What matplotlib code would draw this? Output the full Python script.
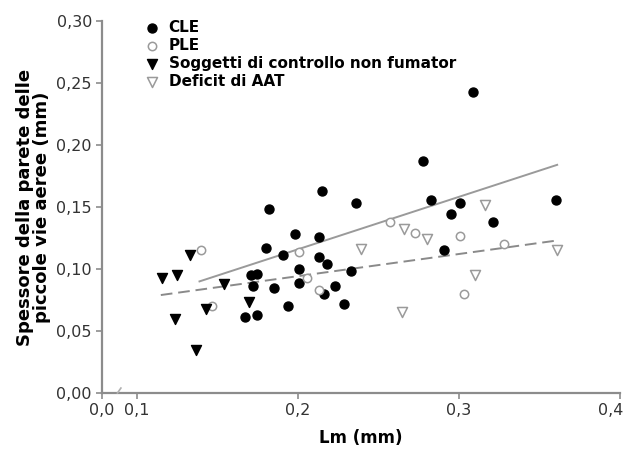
import numpy as np
import matplotlib
matplotlib.use("Agg")
import matplotlib.pyplot as plt
from matplotlib.transforms import ScaledTranslation

plt.rcParams["font.family"] = ["DejaVu Sans"]

# ── dati ──
cle_x = [0.309, 0.278, 0.215, 0.182, 0.236, 0.283, 0.301, 0.295, 0.321, 0.360,
         0.291, 0.198, 0.213, 0.180, 0.191, 0.213, 0.218, 0.201, 0.233, 0.171,
         0.175, 0.172, 0.185, 0.223, 0.201, 0.194, 0.229, 0.167, 0.175, 0.216]
cle_y = [0.243, 0.187, 0.163, 0.148, 0.153, 0.156, 0.153, 0.144, 0.138, 0.156,
         0.115, 0.128, 0.126, 0.117, 0.111, 0.110, 0.104, 0.100, 0.098, 0.095,
         0.096, 0.086, 0.085, 0.086, 0.089, 0.070, 0.072, 0.061, 0.063, 0.080]
ple_x = [0.140, 0.147, 0.201, 0.206, 0.213, 0.257, 0.273, 0.301, 0.303, 0.328]
ple_y = [0.115, 0.070, 0.114, 0.093, 0.083, 0.138, 0.129, 0.127, 0.080, 0.120]
ctrl_x = [0.116, 0.125, 0.133, 0.124, 0.143, 0.137, 0.154, 0.170]
ctrl_y = [0.093, 0.095, 0.111, 0.060, 0.068, 0.035, 0.088, 0.073]
aat_x = [0.266, 0.280, 0.239, 0.316, 0.310, 0.265, 0.361]
aat_y = [0.132, 0.124, 0.116, 0.152, 0.095, 0.065, 0.115]

fit_solid_x = [0.139, 0.361]
fit_solid_y = [0.090, 0.184]
fit_dash_x = [0.115, 0.361]
fit_dash_y = [0.079, 0.123]

labels = ["CLE", "PLE", "Soggetti di controllo non fumator", "Deficit di AAT"]
xticks = [0.0, 0.1, 0.2, 0.3, 0.4]
xticklabels = ["0,0", "0,1", "0,2", "0,3", "0,4"]
yticks = [0.00, 0.05, 0.10, 0.15, 0.20, 0.25, 0.30]
yticklabels = ["0,00", "0,05", "0,10", "0,15", "0,20", "0,25", "0,30"]

# asse x interrotto: tratto 0,0-0,1 compresso
K = 0.217


def fwd(x):
    x = np.asarray(x, dtype=float)
    return np.where(x < 0.1, 0.1 - (0.1 - x) * K, x)


def inv(u):
    u = np.asarray(u, dtype=float)
    return np.where(u < 0.1, 0.1 - (0.1 - u) / K, u)


fig = plt.figure(figsize=(6.3, 4.51), dpi=100)
ax = fig.add_axes([101.7 / 630, 58 / 451, 518.3 / 630, 372 / 451])
ax.set_xscale("function", functions=(fwd, inv))
ax.set_xlim(0, 0.4)
ax.set_ylim(0, 0.30)

grey = "#8c8c8c"
ax.plot(fit_solid_x, fit_solid_y, color="#9a9a9a", lw=1.4, zorder=2)
ax.plot(fit_dash_x, fit_dash_y, color="#8a8a8a", lw=1.4, ls=(0, (6, 3)), zorder=2)

ax.scatter(cle_x, cle_y, s=42, color="black", zorder=3, label=labels[0])
ax.scatter(ple_x, ple_y, s=36, facecolor="white", edgecolor="#9a9a9a", lw=1.1,
           zorder=3, label=labels[1])
ax.scatter(ctrl_x, ctrl_y, s=52, marker="v", color="black", zorder=3, label=labels[2])
ax.scatter(aat_x, aat_y, s=52, marker="v", facecolor="white", edgecolor="#9a9a9a",
           lw=1.1, zorder=3, label=labels[3])

# segno di interruzione
ax.plot([0.045, 0.055], [0.0, 0.004], color="#b0b0b0", lw=1.2, clip_on=False, zorder=4)

for s in ("top", "right"):
    ax.spines[s].set_visible(False)
for s in ("left", "bottom"):
    ax.spines[s].set_color(grey)
    ax.spines[s].set_linewidth(1.6)

ax.set_xticks(xticks)
ax.set_xticklabels(xticklabels)
ax.set_yticks(yticks)
ax.set_yticklabels(yticklabels)
ax.minorticks_off()
ax.tick_params(colors=grey, labelcolor="#333333", labelsize=11.5, length=4, width=1.2, pad=3)
# "0,4" sta sul bordo destro: spostato un po' a sinistra
last = ax.get_xticklabels()[-1]
last.set_transform(last.get_transform() + ScaledTranslation(-7 / 72, 0, fig.dpi_scale_trans))

ax.set_xlabel("Lm (mm)", fontsize=12, fontweight="bold", labelpad=8)
ax.set_ylabel("Spessore della parete delle\npiccole vie aeree (mm)", fontsize=13,
              fontweight="bold", labelpad=4, linespacing=0.9)

leg = ax.legend(loc="upper left", bbox_to_anchor=(0.07, 1.02), frameon=False,
                prop={"weight": "bold", "size": 11}, handletextpad=0.6,
                labelspacing=0.2, handlelength=1.0, borderaxespad=0.0)

fig.savefig("out.png", dpi=100)
